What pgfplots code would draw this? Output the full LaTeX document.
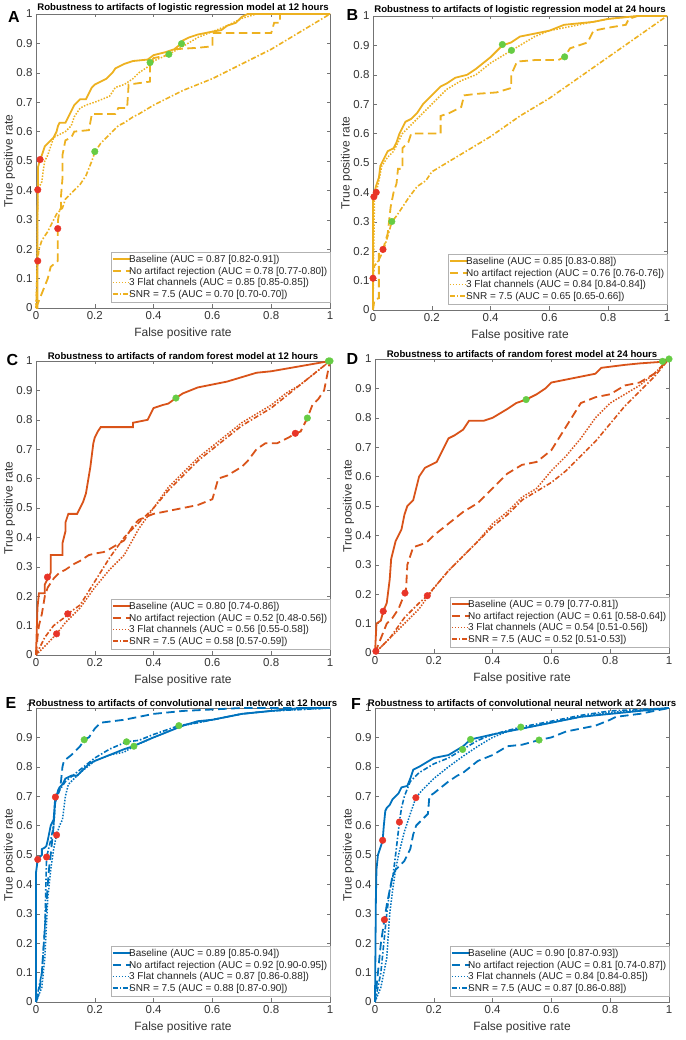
\documentclass[border=0pt]{standalone}
\usepackage{fontspec}
\setmainfont{Liberation Sans}
\usepackage{pgfplots}
\pgfplotsset{compat=1.18}
\definecolor{lr}{RGB}{237,177,32}
\definecolor{rf}{RGB}{217,83,25}
\definecolor{cnn}{RGB}{0,114,189}
\definecolor{rdot}{RGB}{232,52,40}
\definecolor{gdot}{RGB}{102,204,68}
\pgfplotsset{
 every axis title/.style={at={(0.5,1)}, anchor=south, inner sep=0.8pt, font=\fontsize{9.6}{11}\selectfont\bfseries},
 roc/.style={
  scale only axis, width=294pt, height=294pt,
  xmin=0,xmax=1,ymin=0,ymax=1, clip=false,
  xtick={0,0.2,0.4,0.6,0.8,1}, xticklabels={0,0.2,0.4,0.6,0.8,1},
  ytick={0,0.1,0.2,0.3,0.4,0.5,0.6,0.7,0.8,0.9,1},
  yticklabels={0,0.1,0.2,0.3,0.4,0.5,0.6,0.7,0.8,0.9,1},
  tick align=inside, major tick length=3.5pt,
  tick label style={font=\fontsize{11.5}{13}\selectfont, text=black!80},
  xlabel={False positive rate}, ylabel={True positive rate},
  label style={font=\fontsize{12}{14}\selectfont, text=black!80},
  xlabel style={at={(axis description cs:0.5,-0.085)}, anchor=center},
  ylabel style={at={(axis description cs:-0.09,0.5)}, anchor=center},
  axis line style={black!55}, tick style={black!55, line width=0.5pt},
  legend style={at={(1,0.019)}, anchor=south east, font=\fontsize{10}{11}\selectfont,
     draw=black!30, fill=white, inner xsep=0.5pt, inner ysep=1pt, row sep=-1pt, column sep=-4.5pt, text=black!85},
  legend cell align=left,
  legend image code/.code={\draw[##1, line cap=butt] (0pt,0.6pt) -- (18pt,0.6pt);},
 },
 bl/.style={solid, line width=1.8pt},
 na/.style={dash pattern=on 8.5pt off 4.5pt, line width=1.8pt},
 fc/.style={dash pattern=on 1.5pt off 1.5pt, line width=1.5pt},
 sn/.style={dash pattern=on 5pt off 2pt on 1.5pt off 2pt, line width=1.6pt},
 rd/.style={only marks, mark=*, mark size=3.3pt, color=rdot, forget plot},
 gd/.style={only marks, mark=*, mark size=3.3pt, color=gdot, forget plot},
}
\begin{document}
\begin{tikzpicture}
\path[use as bounding box] (0,0) rectangle (685pt,1040pt);
% ---------------- A ----------------
\begin{axis}[roc, at={(36pt,732pt)}, anchor=south west,
  title={Robustness to artifacts of logistic regression model at 12 hours}]
\addplot[lr,bl] coordinates {(0,0) (0.005,0) (0.005,0.29) (0.007,0.48) (0.014,0.505) (0.02,0.52) (0.03,0.55) (0.04,0.56) (0.05,0.57) (0.06,0.58) (0.07,0.6) (0.075,0.62) (0.08,0.63) (0.1,0.63) (0.11,0.65) (0.12,0.67) (0.13,0.69) (0.14,0.7) (0.15,0.71) (0.17,0.71) (0.18,0.73) (0.19,0.75) (0.2,0.76) (0.22,0.77) (0.24,0.78) (0.26,0.8) (0.27,0.815) (0.3,0.83) (0.33,0.84) (0.38,0.845) (0.4,0.86) (0.44,0.87) (0.47,0.88) (0.495,0.9) (0.5,0.91) (0.52,0.92) (0.55,0.93) (0.6,0.94) (0.63,0.945) (0.65,0.96) (0.68,0.97) (0.7,0.99) (0.72,1) (1,1)};
\addlegendentry{Baseline (AUC = 0.87 [0.82-0.91])}
\addplot[lr,na] coordinates {(0,0) (0.02,0.05) (0.04,0.1) (0.05,0.14) (0.074,0.16) (0.074,0.27) (0.075,0.3) (0.08,0.33) (0.085,0.34) (0.085,0.38) (0.09,0.44) (0.09,0.52) (0.1,0.57) (0.12,0.58) (0.13,0.6) (0.18,0.605) (0.19,0.66) (0.27,0.66) (0.28,0.68) (0.31,0.68) (0.315,0.76) (0.388,0.77) (0.388,0.835) (0.4,0.85) (0.45,0.86) (0.47,0.88) (0.55,0.885) (0.6,0.89) (0.6,0.935) (0.8,0.935) (0.81,0.97) (0.83,0.97) (0.83,1) (1,1)};
\addlegendentry{No artifact rejection (AUC = 0.78 [0.77-0.80])}
\addplot[lr,fc] coordinates {(0,0) (0.003,0.1) (0.005,0.3) (0.006,0.4) (0.01,0.41) (0.02,0.43) (0.025,0.47) (0.03,0.5) (0.04,0.52) (0.05,0.55) (0.06,0.58) (0.08,0.59) (0.1,0.6) (0.12,0.62) (0.13,0.65) (0.15,0.68) (0.17,0.69) (0.2,0.7) (0.25,0.72) (0.27,0.75) (0.3,0.76) (0.33,0.78) (0.35,0.8) (0.38,0.82) (0.4,0.84) (0.452,0.863) (0.5,0.89) (0.55,0.92) (0.6,0.94) (0.65,0.96) (0.7,0.985) (0.75,1) (1,1)};
\addlegendentry{3 Flat channels (AUC = 0.85 [0.85-0.85])}
\addplot[lr,sn] coordinates {(0,0) (0.003,0.1) (0.006,0.16) (0.01,0.2) (0.02,0.23) (0.04,0.26) (0.06,0.3) (0.07,0.32) (0.09,0.34) (0.1,0.37) (0.12,0.39) (0.15,0.42) (0.17,0.45) (0.19,0.5) (0.2,0.53) (0.22,0.56) (0.25,0.59) (0.28,0.62) (0.3,0.63) (0.33,0.65) (0.35,0.66) (0.4,0.69) (0.44,0.71) (0.5,0.74) (0.6,0.78) (0.7,0.83) (0.8,0.88) (0.9,0.94) (1,1)};
\addlegendentry{SNR = 7.5 (AUC = 0.70 [0.70-0.70])}
\addplot[rd] coordinates {(0.014,0.505) (0.006,0.402) (0.074,0.27) (0.006,0.16)};
\addplot[gd] coordinates {(0.2,0.532) (0.388,0.835) (0.452,0.863) (0.495,0.899)};
\end{axis}
% ---------------- B ----------------
\begin{axis}[roc, at={(373pt,730pt)}, anchor=south west,
  title={Robustness to artifacts of logistic regression model at 24 hours}]
\addplot[lr,bl] coordinates {(0,0) (0,0.385) (0.005,0.4) (0.01,0.42) (0.02,0.45) (0.025,0.49) (0.04,0.52) (0.05,0.54) (0.07,0.55) (0.08,0.57) (0.09,0.6) (0.1,0.62) (0.11,0.64) (0.13,0.65) (0.15,0.67) (0.17,0.7) (0.2,0.73) (0.23,0.76) (0.25,0.77) (0.28,0.79) (0.32,0.8) (0.35,0.82) (0.4,0.86) (0.44,0.9) (0.47,0.91) (0.5,0.93) (0.55,0.94) (0.6,0.95) (0.65,0.97) (0.75,0.98) (0.8,0.99) (0.9,1) (1,1)};
\addlegendentry{Baseline (AUC = 0.85 [0.83-0.88])}
\addplot[lr,na] coordinates {(0,0) (0.005,0.035) (0.02,0.04) (0.02,0.2) (0.034,0.206) (0.05,0.26) (0.06,0.35) (0.07,0.4) (0.08,0.43) (0.085,0.48) (0.1,0.48) (0.1,0.55) (0.12,0.57) (0.13,0.6) (0.15,0.6) (0.23,0.6) (0.23,0.66) (0.26,0.67) (0.3,0.69) (0.31,0.73) (0.35,0.735) (0.42,0.74) (0.47,0.755) (0.47,0.8) (0.49,0.845) (0.55,0.85) (0.63,0.85) (0.652,0.861) (0.67,0.89) (0.7,0.9) (0.73,0.91) (0.75,0.95) (0.8,0.96) (0.86,0.97) (0.87,0.99) (0.9,1) (1,1)};
\addlegendentry{No artifact rejection (AUC = 0.76 [0.76-0.76])}
\addplot[lr,fc] coordinates {(0,0) (0.005,0.38) (0.011,0.40) (0.02,0.44) (0.03,0.49) (0.05,0.52) (0.07,0.54) (0.09,0.58) (0.1,0.6) (0.12,0.62) (0.15,0.65) (0.2,0.7) (0.25,0.75) (0.3,0.78) (0.35,0.8) (0.4,0.84) (0.471,0.883) (0.5,0.9) (0.55,0.93) (0.6,0.95) (0.7,0.97) (0.8,0.99) (0.9,1) (1,1)};
\addlegendentry{3 Flat channels (AUC = 0.84 [0.84-0.84])}
\addplot[lr,sn] coordinates {(0,0) (0,0.108) (0.005,0.15) (0.02,0.17) (0.034,0.2) (0.05,0.25) (0.064,0.3) (0.08,0.32) (0.1,0.35) (0.12,0.38) (0.15,0.42) (0.18,0.44) (0.2,0.47) (0.25,0.5) (0.3,0.53) (0.4,0.59) (0.5,0.66) (0.6,0.72) (0.7,0.79) (0.8,0.86) (0.9,0.93) (1,1)};
\addlegendentry{SNR = 7.5 (AUC = 0.65 [0.65-0.66])}
\addplot[rd] coordinates {(0,0.108) (0.034,0.206) (0.003,0.385) (0.011,0.40)};
\addplot[gd] coordinates {(0.44,0.903) (0.471,0.883) (0.652,0.861) (0.064,0.301)};
\end{axis}
% ---------------- C ----------------
\begin{axis}[roc, at={(36pt,385pt)}, anchor=south west,
  title={Robustness to artifacts of random forest model at 12 hours}]
\addplot[rf,bl] coordinates {(0,0) (0.005,0.16) (0.01,0.21) (0.03,0.21) (0.03,0.24) (0.04,0.26) (0.05,0.28) (0.05,0.34) (0.09,0.34) (0.09,0.38) (0.1,0.42) (0.1,0.45) (0.11,0.48) (0.14,0.48) (0.15,0.5) (0.16,0.52) (0.17,0.55) (0.18,0.61) (0.185,0.64) (0.19,0.68) (0.195,0.72) (0.2,0.74) (0.21,0.76) (0.22,0.775) (0.33,0.775) (0.33,0.79) (0.38,0.8) (0.39,0.82) (0.4,0.84) (0.43,0.85) (0.45,0.855) (0.476,0.874) (0.5,0.89) (0.55,0.91) (0.6,0.92) (0.65,0.93) (0.7,0.945) (0.75,0.96) (0.8,0.965) (1,1)};
\addlegendentry{Baseline (AUC = 0.80 [0.74-0.86])}
\addplot[rf,na] coordinates {(0,0) (0.005,0.06) (0.01,0.1) (0.02,0.14) (0.03,0.2) (0.04,0.23) (0.06,0.26) (0.08,0.28) (0.1,0.29) (0.13,0.31) (0.15,0.32) (0.18,0.34) (0.2,0.345) (0.23,0.35) (0.25,0.36) (0.3,0.39) (0.33,0.44) (0.35,0.46) (0.4,0.48) (0.45,0.49) (0.5,0.5) (0.55,0.51) (0.6,0.53) (0.62,0.6) (0.65,0.61) (0.7,0.64) (0.72,0.66) (0.75,0.7) (0.78,0.72) (0.82,0.72) (0.86,0.74) (0.882,0.754) (0.9,0.76) (0.923,0.806) (0.94,0.85) (0.96,0.87) (0.98,0.9) (0.99,0.95) (1,1)};
\addlegendentry{No artifact rejection (AUC = 0.52 [0.48-0.56])}
\addplot[rf,fc] coordinates {(0,0) (0.04,0.04) (0.07,0.072) (0.1,0.11) (0.15,0.16) (0.2,0.23) (0.25,0.29) (0.3,0.34) (0.35,0.43) (0.4,0.5) (0.45,0.57) (0.5,0.62) (0.55,0.67) (0.6,0.71) (0.65,0.75) (0.7,0.79) (0.75,0.82) (0.8,0.85) (0.85,0.89) (0.9,0.92) (0.95,0.96) (1,1)};
\addlegendentry{3 Flat channels (AUC = 0.56 [0.55-0.58])}
\addplot[rf,sn] coordinates {(0,0) (0.03,0.06) (0.06,0.1) (0.1,0.13) (0.108,0.14) (0.15,0.17) (0.2,0.25) (0.25,0.33) (0.3,0.4) (0.35,0.45) (0.4,0.5) (0.45,0.56) (0.5,0.61) (0.55,0.66) (0.6,0.7) (0.65,0.74) (0.7,0.78) (0.75,0.81) (0.8,0.84) (0.85,0.88) (0.9,0.92) (0.95,0.96) (1,1)};
\addlegendentry{SNR = 7.5 (AUC = 0.58 [0.57-0.59])}
\addplot[rd] coordinates {(0.039,0.265) (0.882,0.754) (0.07,0.072) (0.108,0.14)};
\addplot[gd] coordinates {(0.476,0.874) (0.923,0.806) (1,1) (0.995,1)};
\end{axis}
% ---------------- D ----------------
\begin{axis}[roc, at={(375pt,387pt)}, anchor=south west,
  title={Robustness to artifacts of random forest model at 24 hours}]
\addplot[rf,bl] coordinates {(0,0) (0.005,0.1) (0.02,0.11) (0.028,0.142) (0.04,0.17) (0.05,0.25) (0.055,0.32) (0.06,0.34) (0.07,0.38) (0.08,0.4) (0.09,0.42) (0.1,0.47) (0.11,0.5) (0.13,0.52) (0.14,0.56) (0.15,0.6) (0.17,0.63) (0.19,0.64) (0.21,0.65) (0.23,0.69) (0.25,0.73) (0.27,0.74) (0.3,0.76) (0.32,0.79) (0.37,0.79) (0.4,0.8) (0.45,0.83) (0.48,0.85) (0.514,0.862) (0.55,0.88) (0.58,0.9) (0.6,0.92) (0.65,0.93) (0.7,0.94) (0.75,0.95) (0.77,0.97) (0.85,0.98) (0.9,0.985) (0.97,0.99) (1,1)};
\addlegendentry{Baseline (AUC = 0.79 [0.77-0.81])}
\addplot[rf,na] coordinates {(0,0) (0.02,0.05) (0.04,0.1) (0.06,0.12) (0.08,0.15) (0.1,0.2) (0.105,0.205) (0.11,0.3) (0.12,0.33) (0.13,0.36) (0.16,0.37) (0.18,0.38) (0.2,0.4) (0.25,0.44) (0.3,0.48) (0.35,0.51) (0.4,0.56) (0.45,0.61) (0.5,0.64) (0.55,0.65) (0.6,0.69) (0.65,0.77) (0.7,0.85) (0.75,0.87) (0.8,0.88) (0.85,0.91) (0.9,0.92) (0.95,0.95) (1,1)};
\addlegendentry{No artifact rejection (AUC = 0.61 [0.58-0.64])}
\addplot[rf,fc] coordinates {(0,0) (0.05,0.05) (0.1,0.1) (0.15,0.15) (0.2,0.22) (0.25,0.28) (0.3,0.33) (0.35,0.38) (0.4,0.44) (0.45,0.48) (0.5,0.53) (0.55,0.56) (0.6,0.62) (0.65,0.67) (0.7,0.73) (0.75,0.8) (0.8,0.85) (0.85,0.88) (0.9,0.91) (0.95,0.95) (1,1)};
\addlegendentry{3 Flat channels (AUC = 0.54 [0.51-0.56])}
\addplot[rf,sn] coordinates {(0,0) (0.05,0.05) (0.1,0.12) (0.15,0.17) (0.178,0.195) (0.25,0.28) (0.3,0.33) (0.35,0.38) (0.4,0.43) (0.45,0.47) (0.5,0.52) (0.55,0.55) (0.6,0.58) (0.65,0.62) (0.7,0.67) (0.75,0.72) (0.8,0.78) (0.85,0.84) (0.9,0.89) (0.95,0.94) (1,1)};
\addlegendentry{SNR = 7.5 (AUC = 0.52 [0.51-0.53])}
\addplot[rd] coordinates {(0.028,0.142) (0.102,0.204) (0.178,0.195) (0.003,0.006)};
\addplot[gd] coordinates {(0.514,0.862) (0.978,0.992) (1,1)};
\end{axis}
% ---------------- E ----------------
\begin{axis}[roc, at={(36pt,38pt)}, anchor=south west,
  title={Robustness to artifacts of convolutional neural network at 12 hours}]
\addplot[cnn,bl] coordinates {(0,0) (0,0.44) (0.006,0.485) (0.01,0.49) (0.02,0.5) (0.02,0.52) (0.03,0.525) (0.035,0.53) (0.04,0.55) (0.05,0.6) (0.055,0.61) (0.06,0.62) (0.065,0.69) (0.07,0.7) (0.075,0.72) (0.08,0.73) (0.09,0.74) (0.1,0.76) (0.12,0.77) (0.14,0.77) (0.16,0.79) (0.18,0.81) (0.2,0.82) (0.25,0.84) (0.3,0.86) (0.33,0.87) (0.4,0.9) (0.45,0.92) (0.5,0.94) (0.55,0.955) (0.6,0.96) (0.7,0.98) (0.8,0.99) (0.9,1) (1,1)};
\addlegendentry{Baseline (AUC = 0.89 [0.85-0.94])}
\addplot[cnn,na] coordinates {(0,0) (0.01,0.03) (0.02,0.1) (0.03,0.25) (0.04,0.4) (0.045,0.46) (0.05,0.5) (0.06,0.6) (0.066,0.697) (0.08,0.72) (0.085,0.75) (0.09,0.8) (0.095,0.82) (0.12,0.84) (0.15,0.87) (0.164,0.892) (0.18,0.9) (0.2,0.93) (0.22,0.95) (0.3,0.96) (0.35,0.97) (0.4,0.98) (0.5,0.99) (0.6,0.995) (0.7,1) (1,1)};
\addlegendentry{No artifact rejection (AUC = 0.92 [0.90-0.95])}
\addplot[cnn,fc] coordinates {(0,0) (0.02,0.05) (0.03,0.15) (0.04,0.35) (0.05,0.45) (0.06,0.52) (0.07,0.568) (0.08,0.6) (0.09,0.62) (0.1,0.7) (0.11,0.74) (0.13,0.76) (0.15,0.78) (0.2,0.82) (0.25,0.84) (0.3,0.85) (0.333,0.87) (0.4,0.9) (0.45,0.92) (0.5,0.94) (0.6,0.96) (0.7,0.98) (0.8,0.99) (1,1)};
\addlegendentry{3 Flat channels (AUC = 0.87 [0.86-0.88])}
\addplot[cnn,sn] coordinates {(0,0) (0.02,0.1) (0.03,0.25) (0.036,0.493) (0.05,0.55) (0.06,0.6) (0.066,0.68) (0.08,0.72) (0.1,0.75) (0.15,0.79) (0.2,0.83) (0.25,0.86) (0.308,0.885) (0.35,0.89) (0.4,0.91) (0.486,0.94) (0.55,0.95) (0.6,0.96) (0.7,0.98) (0.8,0.99) (1,1)};
\addlegendentry{SNR = 7.5 (AUC = 0.88 [0.87-0.90])}
\addplot[rd] coordinates {(0.006,0.485) (0.036,0.493) (0.066,0.697) (0.07,0.568)};
\addplot[gd] coordinates {(0.164,0.892) (0.308,0.885) (0.333,0.87) (0.486,0.94)};
\end{axis}
% ---------------- F ----------------
\begin{axis}[roc, at={(375pt,38pt)}, anchor=south west,
  title={Robustness to artifacts of convolutional neural network at 24 hours}]
\addplot[cnn,bl] coordinates {(0,0) (0.003,0.35) (0.005,0.45) (0.01,0.5) (0.02,0.53) (0.026,0.55) (0.03,0.6) (0.035,0.65) (0.04,0.66) (0.05,0.67) (0.06,0.69) (0.07,0.7) (0.08,0.71) (0.09,0.73) (0.11,0.735) (0.12,0.76) (0.13,0.79) (0.15,0.8) (0.2,0.83) (0.25,0.84) (0.3,0.87) (0.325,0.893) (0.4,0.91) (0.5,0.93) (0.6,0.95) (0.7,0.97) (0.8,0.98) (0.9,0.99) (1,1)};
\addlegendentry{Baseline (AUC = 0.90 [0.87-0.93])}
\addplot[cnn,na] coordinates {(0,0) (0.01,0.1) (0.02,0.2) (0.032,0.28) (0.04,0.33) (0.05,0.38) (0.06,0.43) (0.07,0.45) (0.08,0.46) (0.1,0.48) (0.12,0.52) (0.13,0.57) (0.14,0.6) (0.16,0.62) (0.18,0.64) (0.185,0.7) (0.2,0.71) (0.25,0.75) (0.28,0.77) (0.3,0.78) (0.35,0.82) (0.4,0.84) (0.45,0.87) (0.5,0.875) (0.558,0.891) (0.6,0.9) (0.65,0.92) (0.7,0.93) (0.75,0.94) (0.8,0.96) (0.82,0.97) (0.9,0.98) (1,1)};
\addlegendentry{No artifact rejection (AUC = 0.81 [0.74-0.87])}
\addplot[cnn,fc] coordinates {(0,0) (0.02,0.05) (0.04,0.15) (0.05,0.3) (0.06,0.38) (0.07,0.45) (0.08,0.5) (0.1,0.58) (0.12,0.64) (0.139,0.695) (0.16,0.72) (0.2,0.76) (0.25,0.8) (0.298,0.835) (0.35,0.87) (0.4,0.9) (0.45,0.92) (0.5,0.93) (0.6,0.95) (0.7,0.97) (0.8,0.985) (1,1)};
\addlegendentry{3 Flat channels (AUC = 0.84 [0.84-0.85])}
\addplot[cnn,sn] coordinates {(0,0) (0.02,0.1) (0.04,0.3) (0.05,0.38) (0.06,0.42) (0.07,0.5) (0.083,0.612) (0.09,0.66) (0.1,0.7) (0.12,0.75) (0.15,0.78) (0.2,0.81) (0.25,0.83) (0.298,0.859) (0.35,0.89) (0.4,0.91) (0.496,0.935) (0.6,0.955) (0.7,0.975) (0.8,0.99) (1,1)};
\addlegendentry{SNR = 7.5 (AUC = 0.87 [0.86-0.88])}
\addplot[rd] coordinates {(0.026,0.55) (0.032,0.28) (0.083,0.612) (0.139,0.695)};
\addplot[gd] coordinates {(0.298,0.859) (0.325,0.893) (0.496,0.935) (0.558,0.891)};
\end{axis}
% panel letters
\tikzset{pl/.style={font=\fontsize{16}{18}\selectfont\bfseries, inner sep=0pt}}
\node[pl] at (14pt,1022.5pt) {A};
\node[pl] at (352.5pt,1025pt) {B};
\node[pl] at (12.5pt,679.5pt) {C};
\node[pl] at (352.5pt,681pt) {D};
\node[pl] at (11pt,336.5pt) {E};
\node[pl] at (356pt,336pt) {F};
\end{tikzpicture}
\end{document}
